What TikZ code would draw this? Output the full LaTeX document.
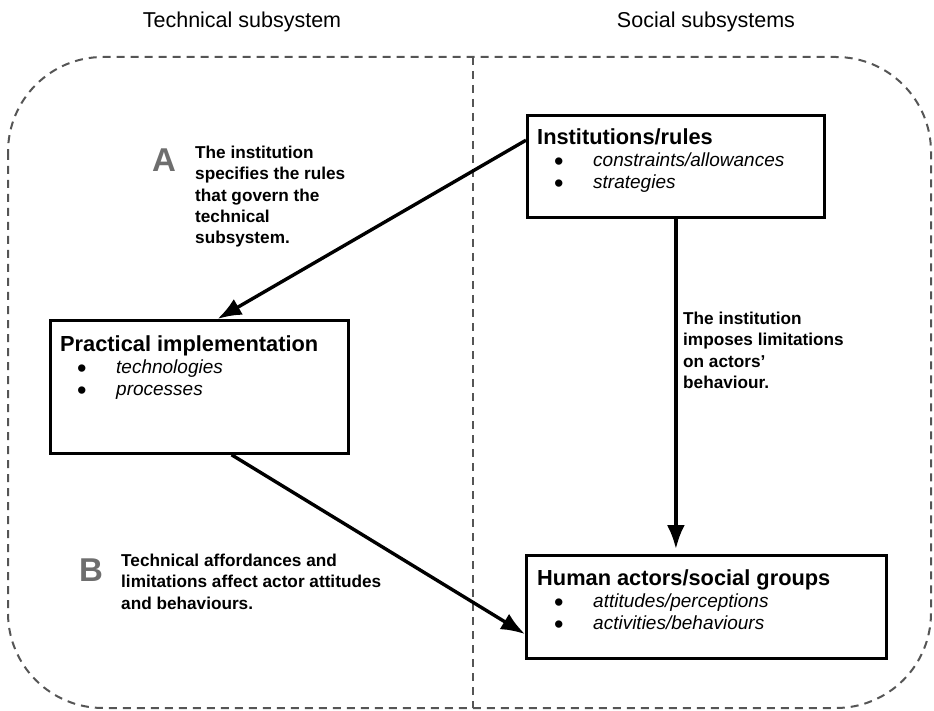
\documentclass[tikz,border=0pt]{standalone}
\usepackage{fontspec}
\setmainfont{Liberation Sans}
\usetikzlibrary{positioning,calc,arrows.meta}

\definecolor{framegray}{RGB}{85,85,85}
\definecolor{lettergray}{RGB}{110,110,110}

\newcommand\boxhead[1]{{\fontsize{21.8}{22}\selectfont\bfseries #1}}
\newcommand\itm[1]{\makebox[56pt][l]{\hspace{17pt}\raisebox{-4pt}{\fontsize{27}{22}\selectfont\textbullet}}\textit{#1}}

\tikzset{
  block/.style={draw, line width=2.8pt, inner sep=0pt, anchor=north west},
  boxtext/.style={inner sep=0pt, align=left, font=\fontsize{19}{22}\selectfont},
  note/.style={inner sep=0pt, align=left, anchor=north west, font=\fontsize{17.2}{21.3}\selectfont\bfseries},
  letter/.style={inner sep=0pt, anchor=base west, text=lettergray, font=\fontsize{33}{33}\selectfont\bfseries},
  header/.style={inner sep=0pt, anchor=base, font=\fontsize{21.5}{24}\selectfont},
  frame/.style={draw=framegray, line width=2pt, dash pattern=on 8pt off 6pt},
  link/.style={line width=3.4pt, -{Latex[length=24pt,width=18pt]}},
}

\begin{document}
\begin{tikzpicture}[x=1pt, y=-1pt]
\useasboundingbox (0,0) rectangle (934,711);

% frame and subsystem split
\coordinate (f-nw) at (8,57);
\coordinate (f-se) at (931,708);
\coordinate (split-top) at (473,57);
\coordinate (split-bottom) at (473,708);
\draw[frame, rounded corners=95pt] (f-nw) rectangle (f-se);
\draw[frame] (split-top) -- (split-bottom);

\node[header] (tech-h) at (242,28) {Technical subsystem};
\node[header] (soc-h) at (706,28) {Social subsystems};

% boxes
\node[block, minimum width=297pt, minimum height=102pt] (inst) at (526,114) {};
\node[boxtext, below right=15pt and 11pt of inst.north west] (inst-t)
  {\boxhead{Institutions/rules}\\ \itm{constraints/allowances}\\ \itm{strategies}};

\node[block, minimum width=298pt, minimum height=133pt] (prac) at (49,319) {};
\node[boxtext, below right=17pt and 11pt of prac.north west] (prac-t)
  {\boxhead{Practical implementation}\\ \itm{technologies}\\ \itm{processes}};

\node[block, minimum width=360pt, minimum height=103pt] (human) at (525,554) {};
\node[boxtext, below right=15pt and 12pt of human.north west] (human-t)
  {\boxhead{Human actors/social groups}\\ \itm{attitudes/perceptions}\\ \itm{activities/behaviours}};

% links
\draw[link] ($(inst.north west)!0.25!(inst.south west)$) -- ($(prac.north west)!0.56!(prac.north east)$);
\draw[link, shorten >=5pt] (inst.south) -- (inst.south |- human.north);
\draw[link] ($(prac.south west)!0.607!(prac.south east)$) -- ($(human.north west)!0.757!(human.south west)$);

% annotations
\node[letter] (a-mark) at (152,172) {A};
\node[note] (a-note) at (195,146) {The institution\\specifies the rules\\that govern the\\technical\\subsystem.};

\node[letter] (b-mark) at (79,581) {B};
\node[note] (b-note) at (121,554) {Technical affordances and\\limitations affect actor attitudes\\and behaviours.};

\node[note] (c-note) at (683,312) {The institution\\imposes limitations\\on actors'\\behaviour.};

\end{tikzpicture}
\end{document}
